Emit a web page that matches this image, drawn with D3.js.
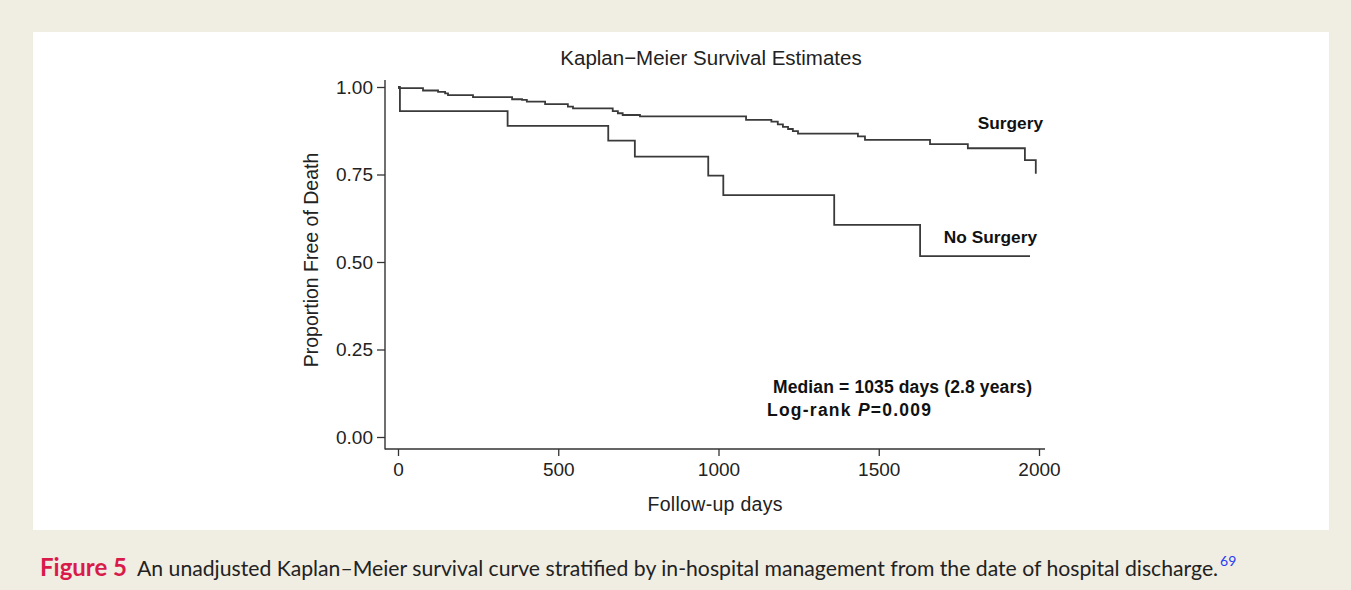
<!DOCTYPE html>
<html><head><meta charset="utf-8">
<script src="https://cdn.jsdelivr.net/npm/d3@7"></script>
<style>
html,body{margin:0;padding:0;background:#f0ede2;}
svg{display:block;}
</style></head>
<body>
<svg id="chart" width="1351" height="590"></svg>
<script>
// ---- data (days, proportion free of death) ----
const surgeryDays   = [0, 3, 78, 125, 147, 156, 234, 356, 387, 402, 459, 530, 546, 670, 686, 701, 755, 1086, 1165, 1185, 1201, 1217, 1232, 1248, 1435, 1457, 1660, 1778, 1956, 1990];
const surgeryValues = [1.000, 0.997, 0.990, 0.986, 0.982, 0.977, 0.971, 0.965, 0.963, 0.958, 0.951, 0.944, 0.939, 0.931, 0.925, 0.920, 0.916, 0.906, 0.901, 0.893, 0.886, 0.880, 0.874, 0.867, 0.859, 0.849, 0.837, 0.825, 0.791, 0.752];
const noSurgeryDays   = [0, 6, 342, 656, 739, 968, 1015, 1361, 1629, 1972];
const noSurgeryValues = [1.000, 0.931, 0.889, 0.847, 0.801, 0.747, 0.691, 0.606, 0.517, 0.517];
const xTicks = [0, 500, 1000, 1500, 2000];
const yTicks = [0, 0.25, 0.5, 0.75, 1.0];
const seriesLabels = ["Surgery", "No Surgery"];

const svg = d3.select("#chart");
// white panel
svg.append("rect").attr("x",33).attr("y",32).attr("width",1296).attr("height",498).attr("fill","#ffffff");

const x = d3.scaleLinear().domain([0,2000]).range([398,1039]);
const y = d3.scaleLinear().domain([0,1]).range([437,87]);
const ink = "#333";
const axisX = 385, axisY = 449;

// axis domain lines
svg.append("line").attr("x1",axisX).attr("x2",axisX).attr("y1",80).attr("y2",axisY+0.5).attr("stroke",ink).attr("stroke-width",1.4);
svg.append("line").attr("x1",axisX).attr("x2",1045).attr("y1",axisY).attr("y2",axisY).attr("stroke",ink).attr("stroke-width",1.4);

const font = "'Liberation Sans', Arial, Helvetica, sans-serif";

const gy = svg.append("g").attr("transform",`translate(${axisX},0)`)
  .call(d3.axisLeft(y).tickValues(yTicks).tickFormat(d3.format(".2f")).tickSize(8).tickPadding(4));
gy.select(".domain").remove();
gy.selectAll("line").attr("stroke",ink).attr("stroke-width",1.3);
gy.selectAll("text").attr("font-family",font).attr("font-size",19).attr("fill","#222");

const gx = svg.append("g").attr("transform",`translate(0,${axisY})`)
  .call(d3.axisBottom(x).tickValues(xTicks).tickFormat(d3.format("d")).tickSize(7).tickPadding(7));
gx.select(".domain").remove();
gx.selectAll("line").attr("stroke",ink).attr("stroke-width",1.3);
gx.selectAll("text").attr("font-family",font).attr("font-size",19).attr("fill","#222");

// curves
const line = d3.line().x(d=>x(d[0])).y(d=>y(d[1])).curve(d3.curveStepAfter);
const series = [
  d3.zip(surgeryDays, surgeryValues),
  d3.zip(noSurgeryDays, noSurgeryValues)
];
svg.selectAll("path.km").data(series).join("path").attr("class","km")
  .attr("d",line).attr("fill","none").attr("stroke","#3a3a3a").attr("stroke-width",1.8);

// title
svg.append("text").attr("x",711).attr("y",65).attr("text-anchor","middle")
  .attr("font-family",font).attr("font-size",20.5).attr("fill","#222").text("Kaplan\u2212Meier Survival Estimates");
// axis titles
svg.append("text").attr("x",715).attr("y",511).attr("text-anchor","middle")
  .attr("font-family",font).attr("font-size",19.5).attr("fill","#222").text("Follow-up days")
  .attr("textLength",135).attr("lengthAdjust","spacing");
svg.append("text").attr("transform","translate(318,260) rotate(-90)").attr("text-anchor","middle")
  .attr("font-family",font).attr("font-size",19.5).attr("fill","#222").text("Proportion Free of Death");

// series labels
svg.append("text").attr("x",1043).attr("y",129).attr("text-anchor","end").attr("font-family",font)
  .attr("font-weight","bold").attr("font-size",17.3).attr("fill","#111").text(seriesLabels[0]);
svg.append("text").attr("x",1037).attr("y",243).attr("text-anchor","end").attr("font-family",font)
  .attr("font-weight","bold").attr("font-size",17.3).attr("fill","#111").text(seriesLabels[1]);

// annotations
svg.append("text").attr("x",773).attr("y",393).attr("font-family",font)
  .attr("font-weight","bold").attr("font-size",17.5).attr("fill","#111").text("Median = 1035 days (2.8 years)")
  .attr("textLength",259).attr("lengthAdjust","spacing");
const lr = svg.append("text").attr("x",767).attr("y",416).attr("font-family",font)
  .attr("font-weight","bold").attr("font-size",17.5).attr("fill","#111")
  .attr("textLength",164).attr("lengthAdjust","spacing");
lr.append("tspan").text("Log-rank ");
lr.append("tspan").attr("font-style","italic").text("P");
lr.append("tspan").text("=0.009");

// caption
const cap = svg.append("text").attr("x",40).attr("y",576).attr("font-family","Lato, 'Open Sans', sans-serif")
  .attr("font-size",21.2).attr("fill","#222");
cap.append("tspan").attr("font-weight","bold").attr("fill","#d81b4a").attr("font-size",24).text("Figure 5");
cap.append("tspan").attr("dx",10).text("An unadjusted Kaplan\u2013Meier survival curve stratified by in-hospital management from the date of hospital discharge.");
cap.append("tspan").attr("fill","#2a3cf0").attr("font-size",14).attr("dy",-10).attr("dx",2).text("69");
</script>
</body></html>
